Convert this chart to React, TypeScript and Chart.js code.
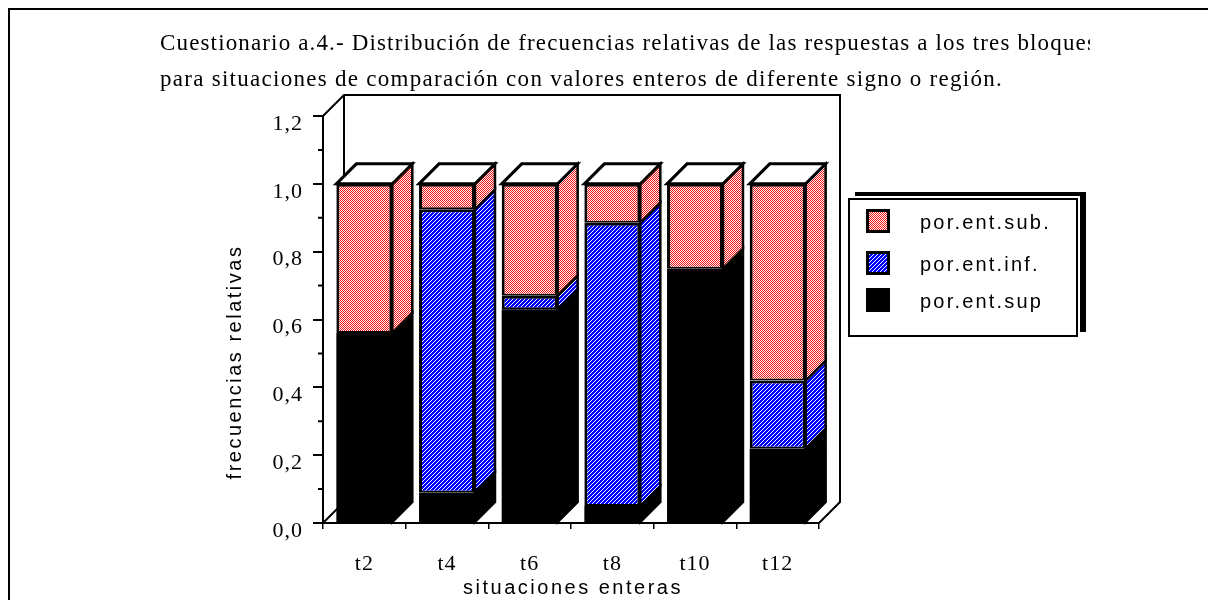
import React, { useEffect, useRef } from 'react';
import { Chart, registerables } from 'chart.js';

Chart.register(...registerables);

// ---- data ----
const categories = ['t2', 't4', 't6', 't8', 't10', 't12'];
const porEntSup = [0.56, 0.09, 0.63, 0.05, 0.75, 0.22];
const porEntInf = [0.0, 0.835, 0.04, 0.835, 0.0, 0.2];
const porEntSub = [0.44, 0.075, 0.33, 0.115, 0.25, 0.58];
const seriesNames = ['por.ent.sub.', 'por.ent.inf.', 'por.ent.sup'];
const yMin = 0;
const yMax = 1.2;
const yStep = 0.2;
const yMinorTicks = [0.1, 0.3, 0.5, 0.7, 0.9, 1.1];
const titleLines = [
  'Cuestionario a.4.- Distribución de frecuencias relativas de las respuestas a los tres bloques',
  'para situaciones de comparación con valores enteros de diferente signo o región.',
];
const xAxisTitle = 'situaciones enteras';
const yAxisTitle = 'frecuencias relativas';

const SERIF = '"Liberation Serif", "Times New Roman", serif';
const SANS = '"Liberation Sans", Arial, sans-serif';

function makePatterns() {
  const c1 = document.createElement('canvas');
  c1.width = 2;
  c1.height = 2;
  const g1 = c1.getContext('2d') as CanvasRenderingContext2D;
  g1.fillStyle = '#ffffff';
  g1.fillRect(0, 0, 2, 2);
  g1.fillStyle = '#f01010';
  g1.fillRect(0, 0, 1, 1);
  g1.fillRect(1, 1, 1, 1);
  const red = g1.createPattern(c1, 'repeat') as CanvasPattern;

  const c2 = document.createElement('canvas');
  c2.width = 4;
  c2.height = 4;
  const g2 = c2.getContext('2d') as CanvasRenderingContext2D;
  g2.fillStyle = '#0000ff';
  g2.fillRect(0, 0, 4, 4);
  g2.fillStyle = '#ffffff';
  for (let i = 0; i < 4; i++) g2.fillRect(3 - i, i, 1, 1);
  const blue = g2.createPattern(c2, 'repeat') as CanvasPattern;
  return { red, blue };
}

function spacedText(ctx: any, text: string, x: number, y: number, spacing: number) {
  ctx.letterSpacing = spacing + 'px';
  ctx.fillText(text, x, y);
  ctx.letterSpacing = '0px';
}

function fitText(ctx: any, text: string, x: number, y: number, target: number) {
  ctx.letterSpacing = '0px';
  const w = ctx.measureText(text).width;
  const sp = (target - w) / text.length;
  spacedText(ctx, text, x, y, sp);
}

export default function App() {
  const ref = useRef<HTMLCanvasElement>(null);

  useEffect(() => {
    const canvas = ref.current as HTMLCanvasElement;
    const { red, blue } = makePatterns();
    const BAR_D = 20;
    const WALL_D = 21;

    const plugin = {
      id: 'threeDLook',
      beforeDraw(chart: any) {
        const ctx = chart.ctx;
        ctx.save();
        ctx.fillStyle = '#ffffff';
        ctx.fillRect(0, 0, chart.width, chart.height);
        ctx.restore();
        (ctx as any).letterSpacing = '1px';
      },
      beforeDatasetsDraw(chart: any) {
        const ctx = chart.ctx;
        const a = chart.chartArea;
        const ys = chart.scales.y;
        ctx.save();
        ctx.letterSpacing = '0px';
        ctx.strokeStyle = '#000';
        ctx.lineWidth = 2;
        ctx.beginPath();
        ctx.moveTo(a.left, a.top);
        ctx.lineTo(a.left + WALL_D, a.top - WALL_D);
        ctx.lineTo(a.right + WALL_D, a.top - WALL_D);
        ctx.lineTo(a.right + WALL_D, a.bottom - WALL_D);
        ctx.lineTo(a.right, a.bottom);
        ctx.moveTo(a.left + WALL_D, a.top - WALL_D);
        ctx.lineTo(a.left + WALL_D, a.bottom - WALL_D);
        ctx.moveTo(a.left, a.bottom);
        ctx.lineTo(a.left + WALL_D, a.bottom - WALL_D);
        ctx.stroke();
        // minor ticks
        ctx.beginPath();
        for (const v of yMinorTicks) {
          const py = ys.getPixelForValue(v);
          ctx.moveTo(a.left - 5, py);
          ctx.lineTo(a.left, py);
        }
        ctx.stroke();
        ctx.restore();
      },
      afterDatasetsDraw(chart: any) {
        const ctx = chart.ctx;
        const ys = chart.scales.y;
        ctx.save();
        ctx.strokeStyle = '#000';
        const nCat = categories.length;
        for (let i = 0; i < nCat; i++) {
          let topY = Infinity;
          let xl = 0;
          let xr = 0;
          for (let d = 0; d < chart.data.datasets.length; d++) {
            const meta = chart.getDatasetMeta(d);
            const el: any = meta.data[i];
            const top = Math.min(el.y, el.base);
            const bot = Math.max(el.y, el.base);
            xl = el.x - el.width / 2;
            xr = el.x + el.width / 2;
            if (bot - top < 0.5) continue;
            topY = Math.min(topY, top);
            ctx.beginPath();
            ctx.moveTo(xr, top);
            ctx.lineTo(xr + BAR_D, top - BAR_D);
            ctx.lineTo(xr + BAR_D, bot - BAR_D);
            ctx.lineTo(xr, bot);
            ctx.closePath();
            ctx.fillStyle = chart.data.datasets[d].backgroundColor;
            ctx.fill();
            ctx.lineWidth = 2.5;
            ctx.stroke();
          }
          if (topY === Infinity) topY = ys.getPixelForValue(0);
          ctx.beginPath();
          ctx.moveTo(xl, topY);
          ctx.lineTo(xl + BAR_D, topY - BAR_D);
          ctx.lineTo(xr + BAR_D, topY - BAR_D);
          ctx.lineTo(xr, topY);
          ctx.closePath();
          ctx.fillStyle = '#ffffff';
          ctx.fill();
          ctx.lineWidth = 3;
          ctx.stroke();
        }
        ctx.restore();
      },
      afterDraw(chart: any) {
        const ctx = chart.ctx;
        const a = chart.chartArea;
        ctx.save();
        ctx.letterSpacing = '0px';
        // frame
        ctx.fillStyle = '#000';
        ctx.fillRect(8, 8, 2, 600);
        ctx.fillRect(8, 8, 1210, 2);

        // title
        ctx.textAlign = 'left';
        ctx.textBaseline = 'middle';
        ctx.font = `23px ${SERIF}`;
        ctx.save();
        ctx.beginPath();
        ctx.rect(0, 0, 1090, 600);
        ctx.clip();
        fitText(ctx, titleLines[0], 160, 44, 937);
        ctx.restore();
        fitText(ctx, titleLines[1], 160, 80, 843);

        // axis titles
        ctx.font = `20px ${SANS}`;
        ctx.textAlign = 'center';
        spacedText(ctx, xAxisTitle, (a.left + a.right) / 2 + 2, 588, 2.5);
        ctx.save();
        ctx.translate(235, 362);
        ctx.rotate(-Math.PI / 2);
        spacedText(ctx, yAxisTitle, 0, 0, 2.5);
        ctx.restore();

        // legend
        ctx.fillStyle = '#000';
        ctx.fillRect(855, 192, 231, 140);
        ctx.fillStyle = '#fff';
        ctx.fillRect(846, 196, 234, 144);
        ctx.strokeStyle = '#000';
        ctx.lineWidth = 2;
        ctx.strokeRect(849, 199, 228, 137);
        const rows = [221, 263, 300];
        const fills = [red, blue, '#000'];
        ctx.textAlign = 'left';
        ctx.font = `20px ${SANS}`;
        for (let k = 0; k < 3; k++) {
          const cy = rows[k];
          ctx.fillStyle = '#000';
          ctx.fillRect(866, cy - 12, 24, 24);
          ctx.fillStyle = fills[k];
          ctx.fillRect(869, cy - 9, 18, 18);
          ctx.fillStyle = '#000';
          spacedText(ctx, seriesNames[k], 920, cy + 2, 2.2);
        }
        ctx.restore();
      },
    };

    const borderW = { top: 3, left: 3, right: 3, bottom: 2 };
    const chart = new Chart(canvas, {
      type: 'bar',
      data: {
        labels: categories,
        datasets: [
          { label: seriesNames[2], data: porEntSup, backgroundColor: '#000000', borderColor: '#000000', borderWidth: 0 },
          { label: seriesNames[1], data: porEntInf, backgroundColor: blue as any, borderColor: '#000000', borderWidth: borderW, borderSkipped: false },
          { label: seriesNames[0], data: porEntSub, backgroundColor: red as any, borderColor: '#000000', borderWidth: borderW, borderSkipped: false },
        ],
      },
      options: {
        responsive: false,
        animation: false,
        devicePixelRatio: 1,
        layout: { padding: { left: 0, right: 389, top: 116, bottom: 0 } },
        datasets: { bar: { barPercentage: 0.677, categoryPercentage: 1 } },
        plugins: { legend: { display: false }, title: { display: false }, tooltip: { enabled: false } },
        scales: {
          x: {
            stacked: true,
            grid: { display: true, drawOnChartArea: false, drawTicks: true, tickLength: 6, color: '#000', lineWidth: 1.5, offset: true },
            border: { display: true, color: '#000', width: 2 },
            ticks: { font: { family: SERIF, size: 22 }, color: '#000', padding: 22, maxRotation: 0 },
            afterFit(s: any) {
              s.height = 77;
            },
          },
          y: {
            stacked: true,
            min: yMin,
            max: yMax,
            grid: { display: true, drawOnChartArea: false, drawTicks: true, tickLength: 10, color: '#000', lineWidth: 2 },
            border: { display: true, color: '#000', width: 2 },
            ticks: {
              stepSize: yStep,
              font: { family: SERIF, size: 22 },
              color: '#000',
              padding: 10,
              labelOffset: 8,
              callback: (v: any) => Number(v).toFixed(1).replace('.', ','),
            },
            afterFit(s: any) {
              s.width = 323;
            },
          },
        },
      },
      plugins: [plugin],
    } as any);

    return () => chart.destroy();
  }, []);

  return (
    <div style={{ position: 'absolute', left: 0, top: 0, width: 1208, height: 600, background: '#fff', overflow: 'hidden' }}>
      <canvas ref={ref} width={1208} height={600} style={{ display: 'block' }} />
    </div>
  );
}
